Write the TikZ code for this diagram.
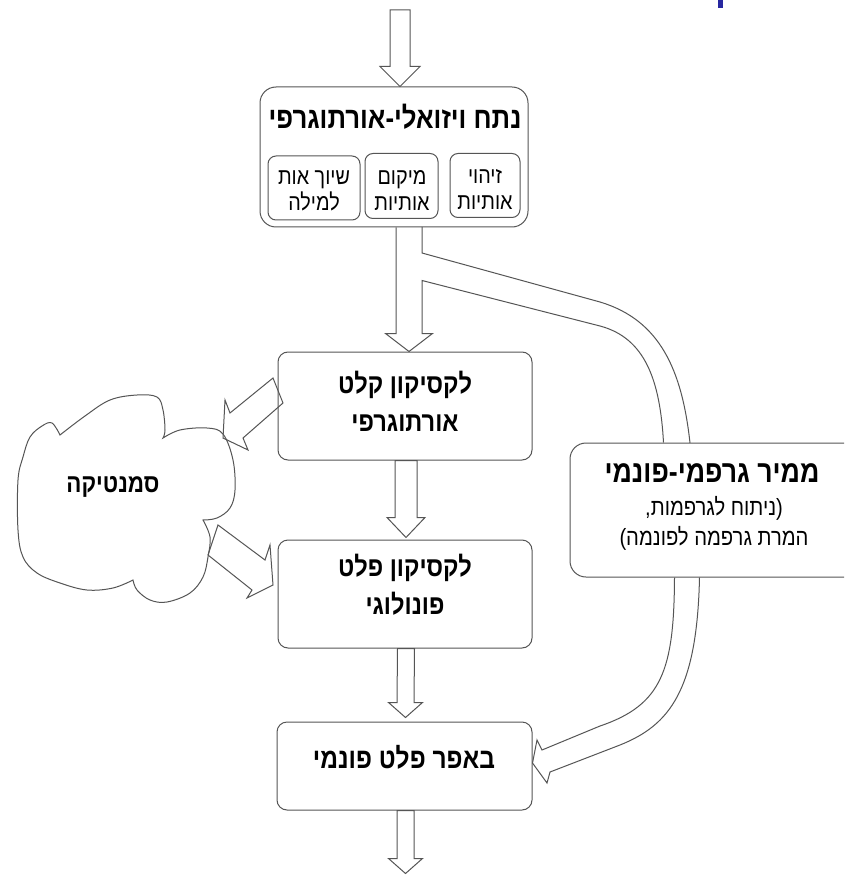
\documentclass[tikz,border=0pt]{standalone}
\usepackage{fontspec}
\newfontfamily\heb[Script=Hebrew,FakeStretch=0.86]{Liberation Sans}
\TeXXeTstate=1
\usetikzlibrary{calc}
\definecolor{ln}{RGB}{85,85,85}
\definecolor{bluemark}{RGB}{40,40,160}
\newcommand\varrow[5]{%
  \draw[arr] ($(#1)+(-#3,0)$) -- ($(#2)+(-#3,-#5)$) -- ($(#2)+(-#4,-#5)$) -- (#2)
    -- ($(#2)+(#4,-#5)$) -- ($(#2)+(#3,-#5)$) -- ($(#1)+(#3,0)$) -- cycle;}
\begin{document}
\begin{tikzpicture}[x=1pt,y=-1pt,line width=1pt,
  box/.style={draw=ln,fill=white,rounded corners=10pt,inner sep=0pt},
  subbox/.style={draw=ln,fill=white,rounded corners=8pt,inner sep=0pt},
  arr/.style={draw=ln,line join=miter},
  ttl/.style={font=\heb\bfseries\fontsize{27.5}{38}\selectfont,align=center,inner sep=0pt},
  sub/.style={font=\heb\fontsize{23}{26}\selectfont,align=center,inner sep=0pt},
  gsub/.style={font=\heb\fontsize{23.5}{30}\selectfont,align=center,inner sep=0pt}]
\clip (0,0) rectangle (844,877);
\fill[white] (0,0) rectangle (844,877);
\fill[bluemark] (718,0) rectangle (723,8);

% boxes
\node[box,rounded corners=16pt,minimum width=268pt,minimum height=140pt] (vis) at (394,157) {};
\node[subbox,minimum width=70pt,minimum height=64pt] (rec) at (485,185.5) {};
\node[subbox,minimum width=73pt,minimum height=65pt] (loc) at (401.5,186) {};
\node[subbox,minimum width=92pt,minimum height=64pt] (map) at (314,188) {};
\node[box,minimum width=254pt,minimum height=108pt] (olex) at (405,406) {};
\node[box,minimum width=254pt,minimum height=108pt] (plex) at (405,594) {};
\node[box,minimum width=255pt,minimum height=88pt] (buf) at (404.5,766) {};

% texts
\node[ttl,font=\heb\bfseries\fontsize{30}{38}\selectfont] (vist) at (395,117) {\beginR נתח ויזואלי-אורתוגרפי\endR};
\node[sub] (rect) at (485,190) {\beginR זיהוי\endR\\\beginR אותיות\endR};
\node[sub] (loct) at (402,190) {\beginR מיקום\endR\\\beginR אותיות\endR};
\node[sub] (mapt) at (314,191) {\beginR שיוך אות\endR\\\beginR למילה\endR};
\node[ttl] (olext) at (405,401) {\beginR לקסיקון קלט\endR\\\beginR אורתוגרפי\endR};
\node[ttl] (plext) at (405,585) {\beginR לקסיקון פלט\endR\\\beginR פונולוגי\endR};
\node[ttl,font=\heb\bfseries\fontsize{28.5}{38}\selectfont] (buft) at (404,757) {\beginR באפר פלט פונמי\endR};

% semantics cloud
\draw[draw=ln,fill=white] (60,435)
  -- plot[smooth,tension=0.6] coordinates {(60,435) (85,416) (110,400) (137,395) (157,397) (163,410) (165,430) (163,438)}
  -- plot[smooth,tension=0.6] coordinates {(163,438) (180,430) (207,428) (223,434) (233,460) (235,490) (230,508) (217,518) (203,520)}
  -- plot[smooth,tension=0.6] coordinates {(203,520) (210,537) (208,557) (203,577) (190,593) (167,602) (150,600) (137,590) (133,580)}
  -- plot[smooth,tension=0.6] coordinates {(133,580) (113,588) (87,590) (60,583) (37,573) (23,557) (18,530) (18,480) (23,457) (30,437) (42,426) (52,423) (60,435)}
  -- cycle;
\node[ttl,font=\heb\bfseries\fontsize{26}{38}\selectfont] (sem) at (113,487) {\beginR סמנטיקה\endR};

% arrows to/from the cloud
\draw[arr] (273,378) -- (230,413) -- (225,400) -- (223,438) -- (248,450) -- (243,438) -- (283,403) -- cycle;
\draw[arr] (218,525) -- (265,560) -- (270,545) -- (273,585) -- (247,598) -- (252,590) -- (208,555) -- cycle;

% grapheme-phoneme converter box (right, cut by the page edge)
\draw[ln] (422,227) -- (422,253) -- (600,302) .. controls (660,320) and (682,370) .. (690,443);
\node[box,rounded corners=16pt,minimum width=300pt,minimum height=134pt] (gpc) at (720,510) {};
\node[ttl,font=\heb\bfseries\fontsize{31}{38}\selectfont] (gpct) at (712,473) {\beginR ממיר גרפמי-פונמי\endR};
\node[gsub] (gpcs) at (714,523) {\beginR(ניתוח לגרפמות,\endR\\\beginR המרת גרפמה לפונמה)\endR};

% vertical block arrows
\coordinate (in) at (400,10);
\coordinate (t0) at (vis.north -| in);
\varrow{in}{t0}{10}{20}{20}

\coordinate (s1) at ($(vis.south)+(15,0)$);
\coordinate (t1) at (olex.north -| s1);
\draw[arr] ($(s1)+(-13,0)$) -- ($(t1)+(-13,-18)$) -- ($(t1)+(-23.5,-18)$) -- (t1)
  -- ($(t1)+(23.5,-18)$) -- ($(t1)+(13,-18)$) -- ($(s1)+(13,53)$) -- (600,326)
  .. controls (645,338) and (660,380) .. ($(gpc.north west)+(94,0)$);

\coordinate (s2) at ($(olex.south)+(1,0)$);
\coordinate (t2) at ($(plex.north)+(1,-2)$);
\varrow{s2}{t2}{11}{19}{20}

\coordinate (s3) at ($(plex.south)+(1,0)$);
\coordinate (t3) at ($(buf.north)+(1,-4)$);
\varrow{s3}{t3}{8.5}{17}{15}

\coordinate (s4) at ($(buf.south)+(1,0)$);
\coordinate (t4) at ($(buf.south)+(1,63)$);
\varrow{s4}{t4}{8.5}{17}{15}

% curved arrow from converter to buffer
\coordinate (t5) at ($(buf.east)+(0,-3)$);
\draw[arr] ($(gpc.south west)+(105,0)$) .. controls (674,670) and (662,705) .. (600,726)
  -- (542,750) -- (537,740) -- (t5) -- (547,783) -- (550,772) -- (620,745)
  .. controls (670,725) and (697,690) .. ($(gpc.south west)+(130,0)$);
\end{tikzpicture}
\end{document}
